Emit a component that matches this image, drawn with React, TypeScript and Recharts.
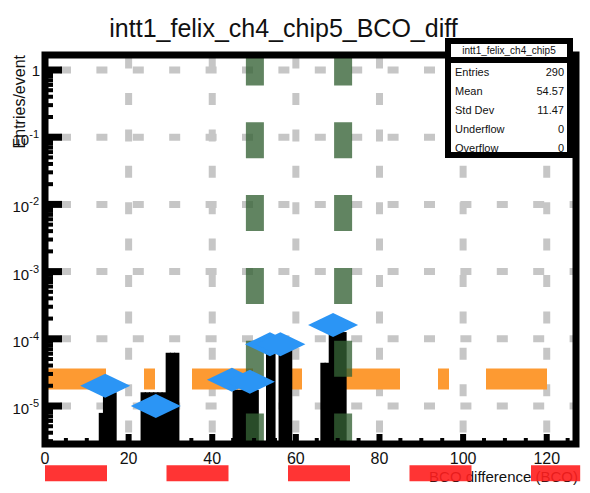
import React from 'react';
import {
  ComposedChart,
  Bar,
  Scatter,
  XAxis,
  YAxis,
  CartesianGrid,
  ReferenceLine,
  ReferenceArea,
} from 'recharts';

// BCO difference histogram: lower edge of each filled bin and its entries/event
const binLow = [13, 14, 15, 16, 23, 24, 25, 26, 27, 28, 29, 30, 31, 45, 46, 47, 48, 49, 50, 53, 54, 56, 57, 58, 66, 67, 68, 69, 70, 71];
const binEntries = [
  7.9e-6, 1.6e-5, 1.6e-5, 1.6e-5,
  1.6e-5, 1.6e-5, 1.6e-5, 1.6e-5, 1.6e-5, 1.6e-5,
  6.2e-5, 6.2e-5, 6.2e-5,
  1.74e-5, 1.74e-5, 1.74e-5, 1.74e-5, 1.74e-5, 1.74e-5,
  6.2e-5, 6.2e-5,
  6.8e-5, 6.8e-5, 6.8e-5,
  4.4e-5, 4.4e-5,
  1.26e-4, 1.26e-4, 1.26e-4, 1.26e-4,
];

// diamond markers on top of the peaks
const markerX = [14.4, 26.5, 44.7, 49.0, 53.8, 56.3, 68.9];
const markerY = [2.0e-5, 1.0e-5, 2.45e-5, 2.3e-5, 8.3e-5, 8.3e-5, 1.6e-4];

// dashed guide lines
const greenCuts = [50.2, 71.3];
const orangeLevel = 2.52e-5;
const redLevel = 1e-6;

const xTicks = [0, 5, 10, 15, 20, 25, 30, 35, 40, 45, 50, 55, 60, 65, 70, 75, 80, 85, 90, 95, 100, 105, 110, 115, 120, 125];
const xGrid = [20, 40, 60, 80, 100, 120];
const yDecades = [1, 1e-1, 1e-2, 1e-3, 1e-4, 1e-5];

const statsLabels = ['Entries', 'Mean', 'Std Dev', 'Underflow', 'Overflow'];
const statsValues = ['290', '54.57', '11.47', '0', '0'];

const N_BINS = 128;
const X_MAX = 127;
const Y_MIN = 2.72e-6;
const Y_MAX = 1.672;

const CHART_W = 590;
const CHART_H = 493;
const MARGIN = { top: 55, right: 14, bottom: 0, left: 0 };
const Y_AXIS_W = 45;
// one histogram bin in pixels
const BIN_PX = (CHART_W - MARGIN.right - Y_AXIS_W) / X_MAX;

const FONT = "'Liberation Sans', Arial, Helvetica, sans-serif";

const histData = Array.from({ length: N_BINS }, (_, i) => {
  const k = binLow.indexOf(i);
  return { x: i + 0.5, entries: k >= 0 ? binEntries[k] : null };
});

const markers = markerX.map((x, i) => ({ x, entries: markerY[i] }));

// decade ticks plus 2..9 minor ticks inside the range
const yTicks: number[] = [];
[1e-6, 1e-5, 1e-4, 1e-3, 1e-2, 1e-1, 1].forEach((d) => {
  for (let m = 1; m <= 9; m++) {
    const v = m * d;
    if (v >= Y_MIN && v <= Y_MAX) yTicks.push(v);
  }
});

const XTick = (props: any) => {
  const { x, y, payload } = props;
  const major = payload.value % 20 === 0;
  return (
    <g>
      <line x1={x} x2={x} y1={y} y2={y - (major ? 10 : 6)} stroke="#000" strokeWidth={major ? 6 : 4} />
      {major && (
        <text x={x} y={y + 20} textAnchor="middle" fontSize={16} fontFamily={FONT} fill="#111">
          {payload.value}
        </text>
      )}
    </g>
  );
};

const YTick = (props: any) => {
  const { x, y, payload } = props;
  const lg = Math.log10(payload.value);
  const exp = Math.round(lg);
  const major = Math.abs(lg - exp) < 1e-6;
  return (
    <g>
      <line x1={x} x2={x + (major ? 17 : 8)} y1={y} y2={y} stroke="#000" strokeWidth={major ? 7 : 4} />
      {major && exp === 0 && (
        <text x={x - 5} y={y + 6} textAnchor="end" fontSize={15} fontFamily={FONT} fill="#111">1</text>
      )}
      {major && exp !== 0 && (
        <text x={x - 6} y={y + 8} textAnchor="end" fontSize={15} fontFamily={FONT} fill="#111">
          10<tspan dy={-7} fontSize={11}>{`-${Math.abs(exp)}`}</tspan>
        </text>
      )}
    </g>
  );
};

// filled histogram bin, as wide as the bin regardless of the computed bar width
const HistBar = (props: any) => {
  const { x, y, width, height } = props;
  if (height == null || height <= 0) return null;
  const cx = x + width / 2;
  return <rect x={cx - BIN_PX / 2 - 0.6} y={y} width={BIN_PX + 1.2} height={height} fill="#000" />;
};

const Diamond = (props: any) => {
  const { cx, cy } = props;
  return (
    <polygon
      points={`${cx - 25},${cy} ${cx},${cy - 12} ${cx + 25},${cy} ${cx},${cy + 12}`}
      fill="#2b95f5"
    />
  );
};

const layer: React.CSSProperties = { position: 'absolute', left: 0, top: 0 };

export default function App() {
  return (
    <div style={{ position: 'absolute', left: 0, top: 0, width: CHART_W, height: CHART_H, background: '#fff' }}>
      {/* x axis title sits under the chart so the red dashes paint over it */}
      <svg width={CHART_W} height={CHART_H} style={layer}>
        <text x={578} y={482} textAnchor="end" fontSize={15} fontFamily={FONT} fill="#111">
          BCO difference (BCO)
        </text>
      </svg>

      <div style={layer}>
        <ComposedChart width={CHART_W} height={CHART_H} data={histData} margin={MARGIN} barCategoryGap={0} barGap={0}>
          <CartesianGrid
            vertical={false}
            horizontalValues={yDecades}
            stroke="#c6c6c6"
            strokeWidth={7}
            strokeDasharray="11 25.4"
            strokeDashoffset={21.4}
          />
          <CartesianGrid
            horizontal={false}
            verticalValues={xGrid}
            stroke="#c6c6c6"
            strokeWidth={7}
            strokeDasharray="12 24.4"
            strokeDashoffset={34.8}
          />
          <ReferenceLine
            y={orangeLevel}
            stroke="#fd9a32"
            strokeWidth={21}
            strokeDasharray="61 38 11 37"
            zIndex={100}
          />
          <Bar dataKey="entries" fill="#000" shape={(p: any) => <HistBar {...p} />} isAnimationActive={false} zIndex={300} />
          {greenCuts.map((c) => (
            <ReferenceLine
              key={c}
              x={c}
              stroke="#356135"
              strokeOpacity={0.78}
              strokeWidth={18}
              strokeDasharray="36 36.8"
              strokeDashoffset={5.5}
              zIndex={350}
            />
          ))}
          <ReferenceArea
            x1={0}
            x2={X_MAX}
            y1={Y_MIN}
            y2={Y_MAX}
            fill="none"
            fillOpacity={0}
            stroke="#000"
            strokeWidth={7}
            ifOverflow="visible"
            zIndex={450}
          />
          <XAxis
            dataKey="x"
            type="number"
            domain={[0, X_MAX]}
            allowDataOverflow
            ticks={xTicks}
            interval={0}
            height={49}
            axisLine={false}
            tickLine={false}
            tickSize={0}
            tickMargin={0}
            tick={(p: any) => <XTick {...p} />}
            zIndex={500}
          />
          <YAxis
            type="number"
            scale="log"
            domain={[Y_MIN, Y_MAX]}
            allowDataOverflow
            ticks={yTicks}
            interval={0}
            width={Y_AXIS_W}
            axisLine={false}
            tickLine={false}
            tickSize={0}
            tickMargin={0}
            tick={(p: any) => <YTick {...p} />}
            zIndex={500}
          />
          <Scatter data={markers} dataKey="entries" shape={(p: any) => <Diamond {...p} />} isAnimationActive={false} zIndex={600} />
          <ReferenceLine
            segment={[{ x: 0, y: redLevel }, { x: 128, y: redLevel }]}
            ifOverflow="visible"
            stroke="#ff1e1e"
            strokeOpacity={0.9}
            strokeWidth={16}
            strokeDasharray="62 59.5"
            zIndex={700}
          />
        </ComposedChart>
      </div>

      {/* title, axis title and stats box */}
      <svg width={CHART_W} height={CHART_H} style={{ ...layer, pointerEvents: 'none' }}>
        <text x={283.5} y={37} textAnchor="middle" fontSize={25} fontFamily={FONT} fill="#111">
          intt1_felix_ch4_chip5_BCO_diff
        </text>
        <text
          x={25}
          y={55}
          transform="rotate(-90 25 55)"
          textAnchor="end"
          fontSize={16}
          fontFamily={FONT}
          fill="#111"
        >
          Entries/event
        </text>
        <rect x={448} y={41} width={122} height={114} fill="#fff" stroke="#000" strokeWidth={6} />
        <line x1={448} x2={570} y1={60} y2={60} stroke="#000" strokeWidth={6} />
        <text x={509} y={54} textAnchor="middle" fontSize={10} fontFamily={FONT} fill="#111">
          intt1_felix_ch4_chip5
        </text>
        {statsLabels.map((l, i) => (
          <g key={l}>
            <text x={455} y={76 + i * 19} fontSize={11} fontFamily={FONT} fill="#111">{l}</text>
            <text x={564} y={76 + i * 19} textAnchor="end" fontSize={11} fontFamily={FONT} fill="#111">
              {statsValues[i]}
            </text>
          </g>
        ))}
      </svg>
    </div>
  );
}
